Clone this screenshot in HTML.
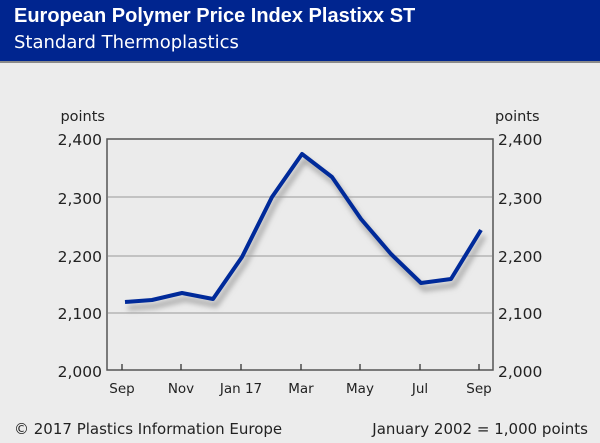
<!DOCTYPE html>
<html><head><style>
body{margin:0;width:600px;height:443px;background:#ececec;font-family:"DejaVu Sans","Liberation Sans",sans-serif;overflow:hidden}
.h{position:absolute;left:0;top:0;width:600px;height:61px;background:#00258f;border-bottom:2px solid #8a8a8a;color:#fff}
</style></head><body>
<div class="h">
<div style="position:absolute;left:14px;top:5px;font-size:20px;font-weight:bold;font-family:'Liberation Sans',sans-serif">European Polymer Price Index Plastixx ST</div>
<div style="position:absolute;left:14px;top:32px;font-size:18px">Standard Thermoplastics</div>
</div>
<svg width="600" height="443" style="position:absolute;left:0;top:0" font-family="DejaVu Sans, Liberation Sans, sans-serif" font-size="13" fill="#222">
<defs><filter id="s" x="-10%" y="-10%" width="120%" height="130%"><feGaussianBlur stdDeviation="3"/></filter></defs>
<rect x="107" y="139" width="386" height="231" fill="#ebebeb" stroke="#555" stroke-width="1.5"/>
<g stroke="#aaa" stroke-width="1.2"><line x1="108" x2="492" y1="313" y2="313"/><line x1="108" x2="492" y1="256" y2="256"/><line x1="108" x2="492" y1="197" y2="197"/></g>
<g stroke="#333" stroke-width="1.3"><line x1="122" x2="122" y1="364" y2="370"/><line x1="181" x2="181" y1="364" y2="370"/><line x1="241" x2="241" y1="364" y2="370"/><line x1="301" x2="301" y1="364" y2="370"/><line x1="360" x2="360" y1="364" y2="370"/><line x1="420" x2="420" y1="364" y2="370"/><line x1="479" x2="479" y1="364" y2="370"/></g>
<polyline filter="url(#s)" transform="translate(3,6)" fill="none" stroke="#999" stroke-width="4" points="125,302 152,300 182,293 213,299 242,257 272,197 302,154 332,177 361,219 391,254 421,283 451,279 481,230"/>
<polyline fill="none" stroke="#002a9a" stroke-width="4" stroke-linejoin="round" points="125,302 152,300 182,293 213,299 242,257 272,197 302,154 332,177 361,219 391,254 421,283 451,279 481,230"/>
<g font-size="15.5" text-anchor="end"><text x="102" y="145">2,400</text><text x="102" y="204">2,300</text><text x="102" y="262">2,200</text><text x="102" y="319">2,100</text><text x="102" y="377">2,000</text><text x="105" y="121" font-size="14.5">points</text></g>
<g font-size="15.5"><text x="498" y="145">2,400</text><text x="498" y="204">2,300</text><text x="498" y="262">2,200</text><text x="498" y="319">2,100</text><text x="498" y="377">2,000</text><text x="495" y="121" font-size="14.5">points</text></g>
<g font-size="13.5" text-anchor="middle"><text x="122" y="393">Sep</text><text x="181" y="393">Nov</text><text x="241" y="393">Jan 17</text><text x="301" y="393">Mar</text><text x="360" y="393">May</text><text x="420" y="393">Jul</text><text x="479" y="393">Sep</text></g>
<text x="14" y="434" font-size="15">© 2017 Plastics Information Europe</text>
<text x="588" y="434" font-size="15" text-anchor="end">January 2002 = 1,000 points</text>
</svg>
</body></html>
